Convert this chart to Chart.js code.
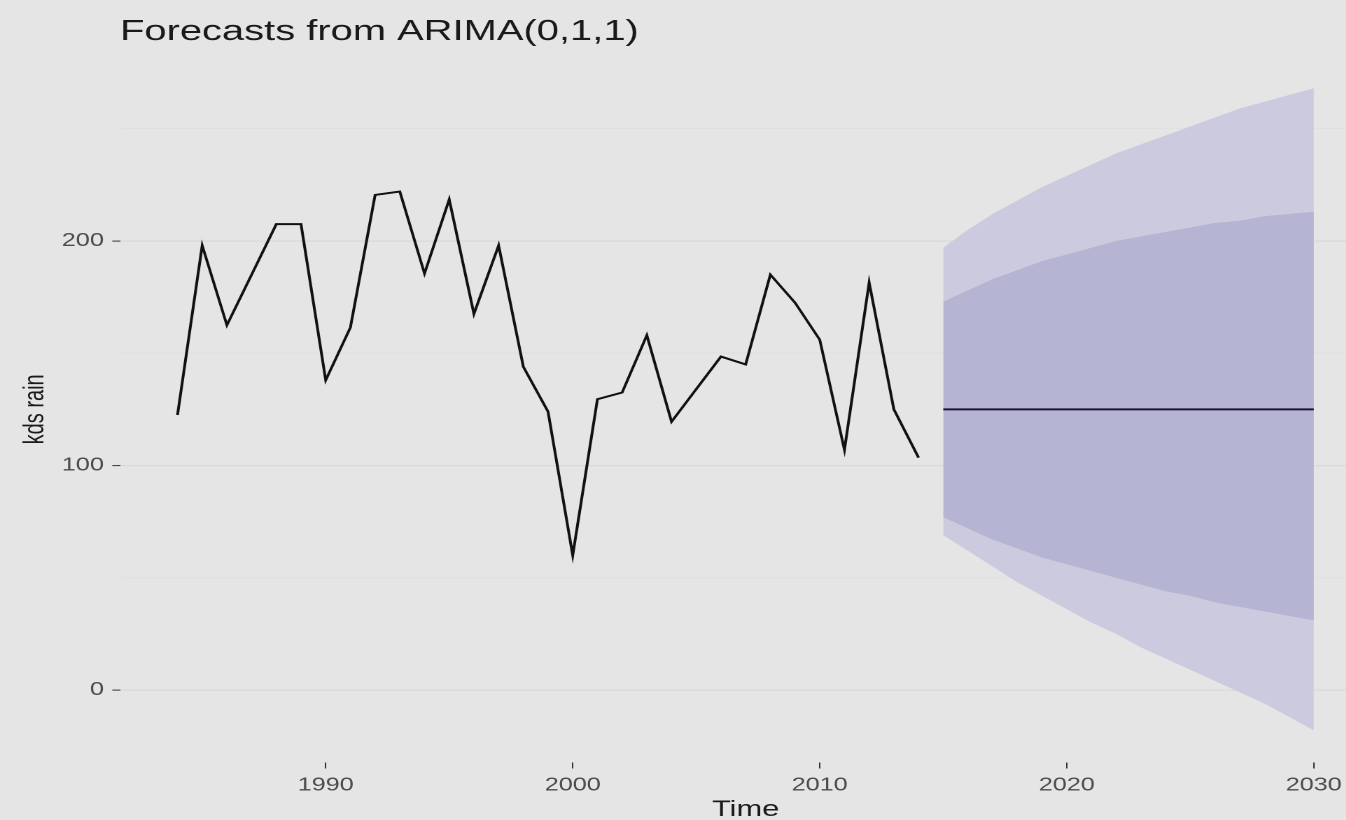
<!DOCTYPE html>
<html>
<head>
<meta charset="utf-8">
<title>Forecasts from ARIMA(0,1,1)</title>
<style>
  html, body { margin: 0; padding: 0; width: 1346px; height: 820px; overflow: hidden; background: #e5e5e5; }
  /* the figure is drawn narrow and widened to its final width */
  #wrap { position: absolute; left: 0; top: 0; width: 1000px; height: 820px; transform: scaleX(1.4); transform-origin: 0 0; }
  canvas { display: block; }
</style>
<script src="https://cdn.jsdelivr.net/npm/chart.js@4.4.1/dist/chart.umd.min.js"></script>
</head>
<body>
<div id="wrap"><canvas id="chart" width="1000" height="820"></canvas></div>
<script>
// Observed annual rainfall series
const years = [1984, 1985, 1986, 1987, 1988, 1989, 1990, 1991, 1992, 1993, 1994, 1995, 1996, 1997, 1998, 1999,
               2000, 2001, 2002, 2003, 2004, 2005, 2006, 2007, 2008, 2009, 2010, 2011, 2012, 2013, 2014];
const rain = [122.5, 198, 162.5, 185, 207.5, 207.5, 138, 161.5, 220.5, 222, 185.5, 218.5, 167.5, 198, 144, 124,
              60, 129.5, 132.5, 158, 119.5, 134, 148.5, 145, 185, 172.5, 156, 107, 181.5, 125, 103.5];

// ARIMA(0,1,1) point forecasts and prediction intervals
const fcYears = [2015, 2016, 2017, 2018, 2019, 2020, 2021, 2022, 2023, 2024, 2025, 2026, 2027, 2028, 2029, 2030];
const fcMean  = [125, 125, 125, 125, 125, 125, 125, 125, 125, 125, 125, 125, 125, 125, 125, 125];
const hi80 = [173, 178, 183, 187, 191, 194, 197, 200, 202, 204, 206, 208, 209, 211, 212, 213];
const lo80 = [77, 72, 67, 63, 59, 56, 53, 50, 47, 44, 42, 39, 37, 35, 33, 31];
const hi95 = [197, 205, 212, 218, 224, 229, 234, 239, 243, 247, 251, 255, 259, 262, 265, 268];
const lo95 = [69, 62, 55, 48, 42, 36, 30, 25, 19, 14, 9, 4, -1, -6, -12, -18];

// Axis labelling
const yLabelled = [0, 100, 200];
const xLabelled = [1990, 2000, 2010, 2020, 2030];
const titleText = 'Forecasts from ARIMA(0,1,1)';
const xTitle = 'Time';
const yTitle = 'kds rain';

const FONT = "'Liberation Sans', Arial, Helvetica, sans-serif";
const pts = (xs, ys) => xs.map((x, i) => ({ x: x, y: ys[i] }));

const background = {
  id: 'background',
  beforeDraw(chart) {
    const c = chart.ctx;
    c.save();
    c.fillStyle = '#e5e5e5';
    c.fillRect(0, 0, chart.width, chart.height);
    c.restore();
  }
};

const titles = {
  id: 'titles',
  afterDraw(chart) {
    const c = chart.ctx;
    const a = chart.chartArea;
    c.save();
    c.fillStyle = '#1a1a1a';
    c.font = '28.5px ' + FONT;
    c.textAlign = 'left';
    c.textBaseline = 'alphabetic';
    c.fillText(titleText, a.left - 0.5, 40);

    c.font = '22px ' + FONT;
    c.textAlign = 'center';
    c.fillText(xTitle, (a.left + a.right) / 2, 816);

    c.translate(25.5, (a.top + a.bottom) / 2);
    c.rotate(-Math.PI / 2);
    c.font = '20px ' + FONT;
    c.textBaseline = 'middle';
    c.fillText(yTitle, 0, 0);
    c.restore();
  }
};

const band = (data, color, order, fill) => ({
  data: data, fill: fill, backgroundColor: color, borderWidth: 0, borderColor: 'transparent',
  pointRadius: 0, tension: 0, order: order
});

new Chart(document.getElementById('chart'), {
  type: 'line',
  data: {
    datasets: [
      band(pts(fcYears, hi95), '#cbcadf', 6, '+1'),
      band(pts(fcYears, lo95), 'transparent', 5, false),
      band(pts(fcYears, hi80), '#b5b4d2', 4, '+1'),
      band(pts(fcYears, lo80), 'transparent', 3, false),
      { data: pts(years, rain), borderColor: '#111111', borderWidth: 2, pointRadius: 0,
        fill: false, tension: 0, order: 2 },
      { data: pts(fcYears, fcMean), borderColor: '#1d1440', borderWidth: 2, pointRadius: 0,
        fill: false, tension: 0, order: 1 }
    ]
  },
  options: {
    responsive: false,
    animation: false,
    devicePixelRatio: 2,
    layout: { padding: { left: 0, right: 21, top: 56.2, bottom: 0 } },
    plugins: { legend: { display: false }, tooltip: { enabled: false }, title: { display: false } },
    scales: {
      x: {
        type: 'linear', min: 1981.7, max: 2032.3,
        afterFit(s) { s.height = 57.5; },
        border: { display: false },
        grid: { drawOnChartArea: false, drawTicks: true, tickLength: 6, tickColor: '#333333', tickWidth: 1 },
        ticks: {
          stepSize: 10, includeBounds: false, autoSkip: false, maxRotation: 0, padding: 6,
          color: '#4d4d4d', font: { family: FONT, size: 18 },
          callback: (v) => xLabelled.includes(v) ? String(v) : ''
        }
      },
      y: {
        type: 'linear', min: -32.3, max: 282.3,
        afterFit(s) { s.width = 86.2; },
        border: { display: false },
        grid: {
          color: (ctx) => yLabelled.includes(ctx.tick && ctx.tick.value) ? '#d9d9d9' : '#dedede',
          lineWidth: (ctx) => yLabelled.includes(ctx.tick && ctx.tick.value) ? 1.2 : 0.8,
          tickLength: 6, tickWidth: 1,
          tickColor: (ctx) => yLabelled.includes(ctx.tick && ctx.tick.value) ? '#333333' : 'transparent'
        },
        ticks: {
          stepSize: 50, includeBounds: false, autoSkip: false, padding: 6,
          color: '#4d4d4d', font: { family: FONT, size: 18 },
          callback: (v) => yLabelled.includes(v) ? String(v) : ''
        }
      }
    }
  },
  plugins: [background, titles]
});
</script>
</body>
</html>
